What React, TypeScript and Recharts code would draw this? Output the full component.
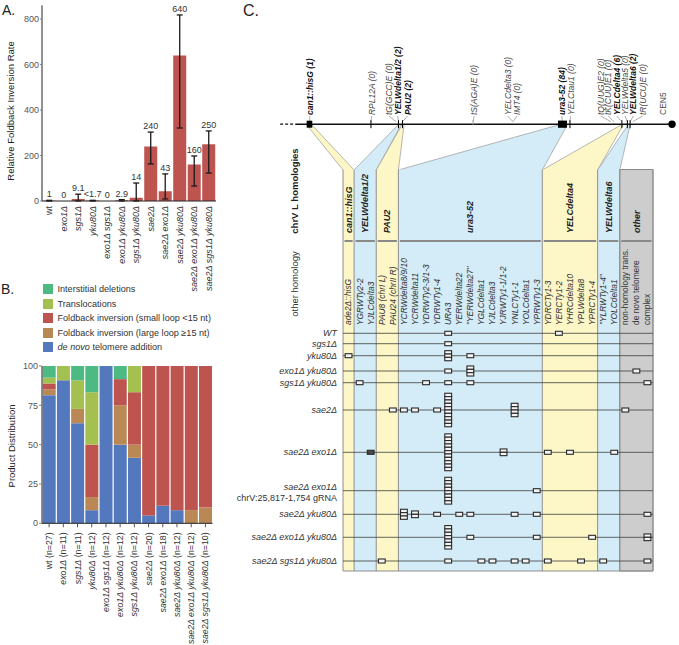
import React from 'react';
import * as R from 'recharts';

const Rx: any = R;
const { ComposedChart, Bar, Line, XAxis, YAxis, ErrorBar, LabelList, Legend, Scatter, ReferenceArea, ReferenceLine } = Rx;
const Customized: any = Rx.Customized ? Rx.Customized : ({ component: C }: any) => <C />;
const usePlotAreaSafe: () => any = Rx.usePlotArea ? Rx.usePlotArea : () => undefined;

const FONT = '"Liberation Sans", Arial, Helvetica, sans-serif';

/* ---------------- Panel A data ---------------- */
const strainsA = ['wt', 'exo1Δ', 'sgs1Δ', 'yku80Δ', 'exo1Δ sgs1Δ', 'exo1Δ yku80Δ', 'sgs1Δ yku80Δ', 'sae2Δ', 'sae2Δ exo1Δ', 'sae2Δ yku80Δ', 'sae2Δ exo1Δ yku80Δ', 'sae2Δ sgs1Δ yku80Δ'];
const rateA = [1, 0, 9.1, 1.7, 0, 2.9, 14, 240, 43, 640, 160, 250];
const rateTextA = ['1', '0', '9.1', '<1.7', '0', '2.9', '14', '240', '43', '640', '160', '250'];
const ciLowA = [0, 0, 0, 0, 0, 0, 0, 163, 9, 321, 66, 123];
const ciHighA = [3, 0, 30, 3, 0, 6, 79, 303, 119, 818, 198, 308];
const yTicksA = [0, 200, 400, 600, 800];

/* ---------------- Panel B data ---------------- */
const strainsB = strainsA;
const nB = [27, 11, 11, 12, 12, 12, 12, 20, 18, 12, 12, 10];
const denovoB = [22, 10, 7, 1, 12, 6, 5, 1, 2, 1, 0, 0];
const largeLoopB = [1, 0, 1, 1, 0, 3, 1, 0, 0, 0, 1, 1];
const smallLoopB = [1, 0, 0, 4, 0, 2, 4, 19, 16, 11, 11, 9];
const translocB = [1, 1, 2, 4, 0, 0, 2, 0, 0, 0, 0, 0];
const interstitialB = [2, 0, 1, 2, 0, 1, 0, 0, 0, 0, 0, 0];
const yTicksB = [0, 25, 50, 75, 100];

/* ---------------- Panel C data ---------------- */
const chromFeatureNames = ['can1::hisG', 'RPL12A', 'YELWdelta1/2', 'PAU2', 'tS(AGA)E', 'ura3-52', 'YELCtau1', 'YELCdelta4', 'YELWdelta5', 'YELWdelta6', 'CEN5'];
const chromFeatureKb = [32.66, 52.9, 61.96, 63.28, 86.5, 115.94, 118.4, 135.5, 137.3, 138.2, 152.0];
const chromFeatureKind = ['marker', 'tick', 'tick', 'tick', 'minor', 'bigmarker', 'tick', 'tick', 'tick', 'tick', 'centromere'];

const chromLabelText = ['can1::hisG (1)', 'RPL12A (0)', 'tG(GCC)E (0)', 'YELWdelta1/2 (2)', 'PAU2 (2)', 'tS(AGA)E (0)', 'YELCdelta3 (0)', 'IMT4 (0)', 'ura3-52 (84)', 'YELCtau1 (0)', 'tQ(UUG)E2 (0)', 'tK(CUU)E1 (0)', 'YELCdelta4 (6)', 'YELWdelta5 (0)', 'YELWdelta6 (2)', 'tR(UCU)E (0)', 'CEN5'];
const chromLabelKb = [32.83, 53.14, 58.83, 61.7, 65.0, 86.9, 97.9, 101.0, 115.7, 118.6, 128.5, 131.0, 133.8, 136.5, 139.3, 142.3, 149.0];
const chromLabelTargetKb: (number | null)[] = [32.66, 52.9, 61.14, 61.96, 63.28, 86.5, 99.65, 99.65, 115.94, 118.4, 131.9, 132.9, 135.5, 137.3, 138.2, 139.1, null];

const columnNames = ['can1::hisG', 'YELWdelta1/2', 'PAU2', 'ura3-52', 'YELCdelta4', 'YELWdelta6', 'other'];
const columnSlots = [[-0.5, 0.5], [0.5, 2.5], [2.5, 4.5], [4.5, 17.5], [17.5, 22.5], [22.5, 24.5], [24.5, 27.5]];
const columnKb: (number[] | null)[] = [[31.8, 33.5], [61.8, 62.8], [63.1, 63.8], [114.5, 117.5], [135.2, 135.9], [137.5, 138.2], null];

const subLabels = ['ade2Δ::hisG', 'YGRWTy2-2', 'YJLCdelta3', 'PAU8 (chrI L)', 'PAU24 (chrII R)', 'YCRWdelta8/9/10', 'YCRWdelta11', 'YDRWTy2-3/1-3', 'YDRWTy1-4', 'URA3', 'YERWdelta22', '"YERWdelta27"', 'YGLCdelta1', 'YJLCdelta3', 'YJRWTy1-1/1-2', 'YNLCTy1-1', 'YOLCdelta1', 'YPRWTy1-3', 'YDRCTy1-3', 'YERCTy1-2', 'YHRCdelta10', 'YPLWdelta8', 'YPRCTy1-4', '"YLRWTy1-4"', 'YOLCdelta1', 'non-homology trans.', 'de novo telomere', 'complex'];
const subLabelPlain = [25, 26, 27];

const rowNames = [['WT'], ['sgs1Δ'], ['yku80Δ'], ['exo1Δ yku80Δ'], ['sgs1Δ yku80Δ'], ['sae2Δ'], ['sae2Δ exo1Δ'], ['sae2Δ exo1Δ', 'chrV:25,817-1,754 gRNA'], ['sae2Δ yku80Δ'], ['sae2Δ exo1Δ yku80Δ'], ['sae2Δ sgs1Δ yku80Δ']];
// [homology slot, number of events, filled?]
const hitsByRow: number[][][] = [
  [[9, 1], [19, 1]],
  [[9, 1]],
  [[0, 1], [9, 3], [11, 1]],
  [[9, 1], [11, 3], [26, 1]],
  [[1, 1], [7, 1], [9, 1], [11, 1], [27, 1]],
  [[4, 1], [5, 1], [6, 1], [8, 1], [9, 10], [15, 4], [25, 1]],
  [[2, 1, 1], [9, 11], [14, 2], [18, 1], [20, 1], [24, 1]],
  [[9, 8], [17, 1]],
  [[5, 3], [6, 2], [8, 1], [10, 1], [11, 1], [15, 1], [17, 1], [27, 1]],
  [[9, 7], [11, 1], [17, 1], [22, 1], [27, 2]],
  [[3, 1], [9, 1], [12, 1], [13, 1], [15, 1], [16, 1], [18, 1], [21, 1], [23, 1], [27, 1]],
];

/* ---------------- layout / style constants ---------------- */
const C_W = 449;
const C_H = 645;
const SLOT_DOMAIN = [-10.71, 29.85];
const KB_DOMAIN = [6.5, 154.3];
const Y_DOMAIN = [0, 645];
const ROW_Y = [333.3, 343.7, 355.7, 371, 382.7, 410, 452.3, 490.7, 514.3, 537.3, 561];
const CHROM_Y = 124.2;
const FUNNEL_TOP = 125;
const COL_TOP = 169.5;
const COL_BOTTOM = 571;
const HEADER_BASE = 233;
const HEADER_RULE = 241;
const SUB_BASE = 325;
const CHROM_LABEL_BASE = 115;
const ROW_LABEL_SLOT = -1.04;
const SIDE_SLOT = -4.84;
const columnFills = ['#FDF6C6', '#D3ECF7', '#FDF6C6', '#D3ECF7', '#FDF6C6', '#D3ECF7', '#CDCDCD'];
const B_COLORS = { inter: '#4DB983', trans: '#A3C050', small: '#BE5450', large: '#BA8854', denovo: '#5478BE' };
const BAR_RED = '#BE5450';

/* ---------------- derived tables ---------------- */
const dataA = strainsA.map((name, i) => ({
  name,
  rate: rateA[i],
  err: [rateA[i] - ciLowA[i], ciHighA[i] - rateA[i]],
  labelPos: ciHighA[i],
  label: rateTextA[i],
}));

const pct = (arr: number[], i: number) => (arr[i] / nB[i]) * 100;
const dataB = strainsB.map((name, i) => ({
  name,
  n: nB[i],
  denovo: pct(denovoB, i),
  large: pct(largeLoopB, i),
  small: pct(smallLoopB, i),
  trans: pct(translocB, i),
  inter: pct(interstitialB, i),
}));

const seriesB = [
  { key: 'denovo', label: 'de novo telomere addition', color: B_COLORS.denovo },
  { key: 'large', label: 'Foldback inversion (large loop ≥15 nt)', color: B_COLORS.large },
  { key: 'small', label: 'Foldback inversion (small loop <15 nt)', color: B_COLORS.small },
  { key: 'trans', label: 'Translocations', color: B_COLORS.trans },
  { key: 'inter', label: 'Interstitial deletions', color: B_COLORS.inter },
];

const featureData = chromFeatureNames.map((name, i) => ({ name, x: chromFeatureKb[i], y: CHROM_Y, kind: chromFeatureKind[i] }));
const markerData = hitsByRow.flatMap((hits, r) => hits.map((h) => ({ x: h[0], y: ROW_Y[r], n: h[1], filled: !!h[2] })));

const chromTextData = chromLabelText.map((text, i) => {
  const m = text.match(/\((\d+)\)/);
  const bold = m ? Number(m[1]) > 0 : false;
  return { x: chromLabelKb[i], y: CHROM_LABEL_BASE, text, style: m ? (bold ? 'chromBold' : 'chrom') : 'chromPlain' };
});
const headerTextData = columnNames.map((text, i) => ({ x: (columnSlots[i][0] + columnSlots[i][1]) / 2, y: HEADER_BASE, text, style: 'header' }));
const subTextData = subLabels.map((text, i) => ({ x: i, y: SUB_BASE, text, style: subLabelPlain.includes(i) ? 'subPlain' : 'sub' }));
const rowTextData = rowNames.flatMap((lines, r) =>
  lines.length === 1
    ? [{ x: ROW_LABEL_SLOT, y: ROW_Y[r], text: lines[0], style: 'row' }]
    : [
        { x: ROW_LABEL_SLOT, y: ROW_Y[r] - 4.2, text: lines[0], style: 'row' },
        { x: ROW_LABEL_SLOT, y: ROW_Y[r] + 7, text: lines[1], style: 'rowPlain' },
      ]
);
const sideTextData = [
  { x: SIDE_SLOT, y: 191, text: 'chrV L homologies', style: 'sideBold' },
  { x: SIDE_SLOT, y: 284, text: 'other homology', style: 'side' },
];

const textStyles: Record<string, any> = {
  chrom: { size: 8.5, italic: true, bold: false, fill: '#4a4a4a', rotate: true, anchor: 'start' },
  chromBold: { size: 8.5, italic: true, bold: true, fill: '#111', rotate: true, anchor: 'start' },
  chromPlain: { size: 8.5, italic: false, bold: false, fill: '#4a4a4a', rotate: true, anchor: 'start' },
  header: { size: 9, italic: true, bold: true, fill: '#222', rotate: true, anchor: 'start' },
  sub: { size: 8.4, italic: true, bold: false, fill: '#333', rotate: true, anchor: 'start' },
  subPlain: { size: 8.4, italic: false, bold: false, fill: '#333', rotate: true, anchor: 'start' },
  row: { size: 9, italic: true, bold: false, fill: '#333', rotate: false, anchor: 'end' },
  rowPlain: { size: 9, italic: false, bold: false, fill: '#333', rotate: false, anchor: 'end' },
  sideBold: { size: 9.5, italic: false, bold: true, fill: '#222', rotate: true, anchor: 'middle' },
  side: { size: 9.5, italic: false, bold: false, fill: '#333', rotate: true, anchor: 'middle' },
};

/* ---------------- shapes ---------------- */
function TextShape(p: any) {
  const { cx, cy, payload } = p;
  const st = textStyles[payload.style];
  return (
    <text
      x={cx}
      y={cy}
      transform={st.rotate ? `rotate(-90, ${cx}, ${cy})` : undefined}
      textAnchor={st.anchor}
      dy="0.35em"
      fontSize={st.size}
      fontStyle={st.italic ? 'italic' : 'normal'}
      fontWeight={st.bold ? 'bold' : 'normal'}
      fill={st.fill}
      fontFamily={FONT}
    >
      {payload.text}
    </text>
  );
}

function MarkerShape(p: any) {
  const { cx, cy, payload } = p;
  const n = payload.n;
  const h = n === 1 ? 4 : 3.35;
  const w = 6.8;
  const top = cy - (n * h) / 2;
  const boxes = [];
  for (let i = 0; i < n; i++) {
    boxes.push(
      <rect key={i} x={cx - w / 2} y={top + i * h} width={w} height={h} fill={payload.filled ? '#4a4a4a' : '#f4f4f4'} stroke="#2a2a2a" strokeWidth={1.1} />
    );
  }
  return <g>{boxes}</g>;
}

function FeatureShape(p: any) {
  const { cx, cy, payload } = p;
  switch (payload.kind) {
    case 'marker':
      return <rect x={cx - 2.8} y={cy - 3.5} width={5.6} height={7} fill="#000" />;
    case 'bigmarker':
      return <rect x={cx - 4.5} y={cy - 3.6} width={9} height={7.2} fill="#000" />;
    case 'tick':
      return <line x1={cx} x2={cx} y1={cy - 4} y2={cy + 4} stroke="#000" strokeWidth={1} />;
    case 'minor':
      return <line x1={cx} x2={cx} y1={cy - 4} y2={cy + 1} stroke="#999" strokeWidth={0.8} />;
    case 'centromere':
      return <circle cx={cx} cy={cy} r={3.7} fill="#000" />;
    default:
      return <g />;
  }
}

function FunnelLayer() {
  const pa = usePlotAreaSafe();
  const area = pa && pa.width > 0 ? pa : { x: 0, y: 0, width: C_W, height: C_H };
  const sx = (v: number) => area.x + ((v - SLOT_DOMAIN[0]) / (SLOT_DOMAIN[1] - SLOT_DOMAIN[0])) * area.width;
  const kx = (v: number) => area.x + ((v - KB_DOMAIN[0]) / (KB_DOMAIN[1] - KB_DOMAIN[0])) * area.width;
  const py = (v: number) => area.y + ((v - Y_DOMAIN[0]) / (Y_DOMAIN[1] - Y_DOMAIN[0])) * area.height;
  return (
    <g>
      {columnNames.map((name, i) => {
        const kb = columnKb[i];
        if (!kb) return null;
        const [s0, s1] = columnSlots[i];
        const p1 = [kx(kb[0]), py(FUNNEL_TOP)];
        const p2 = [kx(kb[1]), py(FUNNEL_TOP)];
        const p3 = [sx(s1), py(COL_TOP) + 0.5];
        const p4 = [sx(s0), py(COL_TOP) + 0.5];
        return (
          <g key={name}>
            <polygon points={[p1, p2, p3, p4].map((q) => q.join(',')).join(' ')} fill={columnFills[i]} stroke="none" />
            <line x1={p1[0]} y1={p1[1]} x2={p4[0]} y2={p4[1]} stroke="#9a9a9a" strokeWidth={0.7} />
            <line x1={p2[0]} y1={p2[1]} x2={p3[0]} y2={p3[1]} stroke="#9a9a9a" strokeWidth={0.7} />
          </g>
        );
      })}
    </g>
  );
}

/* ---------------- axis helpers ---------------- */
function AxisTitle({ text, cx, cy }: any) {
  return (
    <text x={cx} y={cy} transform={`rotate(-90, ${cx}, ${cy})`} textAnchor="middle" dy="0.35em" fontSize={9.5} fill="#222" fontFamily={FONT}>
      {text}
    </text>
  );
}

function TickA(props: any) {
  const { x, y, payload } = props;
  const v: string = payload.value;
  return (
    <text x={x} y={y} transform={`rotate(-90, ${x}, ${y})`} textAnchor="end" dy="0.35em" fontSize={9} fill="#333" fontFamily={FONT} fontStyle={v === 'wt' ? 'normal' : 'italic'}>
      {v}
    </text>
  );
}

function TickB(props: any) {
  const { x, y, payload } = props;
  const v: string = payload.value;
  const i = strainsB.indexOf(v);
  return (
    <text x={x} y={y} transform={`rotate(-90, ${x}, ${y})`} textAnchor="end" dy="0.35em" fontSize={8.8} fill="#333" fontFamily={FONT}>
      <tspan fontStyle={v === 'wt' ? 'normal' : 'italic'}>{v}</tspan>
      <tspan>{' (n=' + nB[i] + ')'}</tspan>
    </text>
  );
}

function LegendB() {
  const items = [...seriesB].reverse();
  return (
    <div style={{ fontFamily: FONT }}>
      {items.map((s) => (
        <div key={s.key} style={{ display: 'flex', alignItems: 'center', height: 14.5 }}>
          <span style={{ display: 'inline-block', width: 10, height: 10, background: s.color, marginLeft: 3 }} />
          <span style={{ marginLeft: 4.5, fontSize: 9.1, color: '#333', whiteSpace: 'nowrap' }}>
            {s.key === 'denovo' ? (
              <>
                <i>de novo</i> telomere addition
              </>
            ) : (
              s.label
            )}
          </span>
        </div>
      ))}
    </div>
  );
}

/* ---------------- panels ---------------- */
function PanelA() {
  return (
    <ComposedChart width={230} height={301} data={dataA} margin={{ top: 5.4, right: 14, bottom: 0, left: 0 }} barCategoryGap="5%">
      <XAxis dataKey="name" interval={0} height={100} tickSize={0} tickMargin={5} axisLine={{ stroke: '#222', strokeWidth: 1 }} tick={<TickA />} />
      <YAxis
        width={42}
        domain={[0, 860]}
        allowDataOverflow
        ticks={yTicksA}
        interval={0}
        tickSize={2}
        tickMargin={1}
        axisLine={{ stroke: '#222' }}
        tickLine={{ stroke: '#888' }}
        tick={{ fontSize: 9, fill: '#555', fontFamily: FONT }}
        label={<AxisTitle text="Relative Foldback Inversion Rate" cx={10.5} cy={111} />}
      />
      <Bar dataKey="rate" fill={BAR_RED} isAnimationActive={false}>
        <ErrorBar dataKey="err" width={3} stroke="#1a1a1a" strokeWidth={1.3} />
      </Bar>
      <Line dataKey="labelPos" stroke="none" dot={false} activeDot={false} isAnimationActive={false} legendType="none">
        <LabelList dataKey="label" position="top" offset={3} style={{ fontSize: 9, fill: '#333', fontFamily: FONT }} />
      </Line>
    </ComposedChart>
  );
}

function PanelB() {
  return (
    <ComposedChart width={230} height={375} data={dataB} margin={{ top: 96, right: 17.5, bottom: 0, left: 0 }} barCategoryGap="5%">
      <XAxis dataKey="name" interval={0} height={121.7} tickSize={4} tickMargin={5} axisLine={{ stroke: '#222' }} tickLine={{ stroke: '#555' }} tick={<TickB />} />
      <YAxis
        width={42}
        domain={[0, 100]}
        ticks={yTicksB}
        interval={0}
        tickSize={3}
        tickMargin={1}
        axisLine={{ stroke: '#222' }}
        tickLine={{ stroke: '#888' }}
        tick={{ fontSize: 9, fill: '#555', fontFamily: FONT }}
        label={<AxisTitle text="Product Distribution" cx={12} cy={176} />}
      />
      {seriesB.map((s) => (
        <Bar key={s.key} dataKey={s.key} name={s.label} stackId="a" fill={s.color} isAnimationActive={false} />
      ))}
      <Legend layout="vertical" align="center" verticalAlign="middle" wrapperStyle={{ left: 40, top: 11.75, width: 190, height: 76 }} content={() => <LegendB />} />
    </ComposedChart>
  );
}

function PanelC() {
  const boundaries = [columnSlots[0][0], ...columnSlots.map((c) => c[1])];
  return (
    <ComposedChart width={C_W} height={C_H} margin={{ top: 0, right: 0, bottom: 0, left: 0 }}>
      <XAxis xAxisId="slot" type="number" dataKey="x" domain={SLOT_DOMAIN} allowDataOverflow hide />
      <XAxis xAxisId="kb" type="number" dataKey="x" domain={KB_DOMAIN} allowDataOverflow hide />
      <YAxis yAxisId="y" type="number" dataKey="y" domain={Y_DOMAIN} reversed allowDataOverflow hide />

      {columnNames.map((name, i) => (
        <ReferenceArea
          key={'col' + name}
          xAxisId="slot"
          yAxisId="y"
          x1={columnSlots[i][0]}
          x2={columnSlots[i][1]}
          y1={COL_TOP}
          y2={COL_BOTTOM}
          fill={columnFills[i]}
          fillOpacity={1}
          stroke={columnKb[i] ? 'none' : '#8a8a8a'}
          strokeWidth={1}
          ifOverflow="visible"
        />
      ))}
      <Customized component={FunnelLayer} />
      {boundaries.map((b, i) => (
        <ReferenceLine key={'bd' + i} xAxisId="slot" yAxisId="y" segment={[{ x: b, y: COL_TOP }, { x: b, y: COL_BOTTOM }]} stroke="#8f8f8f" strokeWidth={1} ifOverflow="visible" />
      ))}
      <ReferenceLine xAxisId="slot" yAxisId="y" segment={[{ x: columnSlots[0][0], y: COL_BOTTOM }, { x: columnSlots[columnSlots.length - 1][1], y: COL_BOTTOM }]} stroke="#8f8f8f" strokeWidth={1} ifOverflow="visible" />
      {columnNames.map((name, i) => (
        <ReferenceLine
          key={'hr' + name}
          xAxisId="slot"
          yAxisId="y"
          segment={[{ x: columnSlots[i][0] + 0.13, y: HEADER_RULE }, { x: columnSlots[i][1] - 0.13, y: HEADER_RULE }]}
          stroke="#8a8a8a"
          strokeWidth={2}
          ifOverflow="visible"
        />
      ))}
      {ROW_Y.map((ry, r) => (
        <ReferenceLine
          key={'row' + r}
          xAxisId="slot"
          yAxisId="y"
          segment={[{ x: columnSlots[0][0], y: ry }, { x: columnSlots[columnSlots.length - 1][1], y: ry }]}
          stroke="#3f3f3f"
          strokeOpacity={0.8}
          strokeWidth={1}
          ifOverflow="visible"
        />
      ))}

      <ReferenceLine xAxisId="kb" yAxisId="y" segment={[{ x: 23, y: CHROM_Y }, { x: 28, y: CHROM_Y }]} stroke="#111" strokeWidth={1.3} strokeDasharray="3 2" ifOverflow="visible" />
      <ReferenceLine xAxisId="kb" yAxisId="y" segment={[{ x: 28, y: CHROM_Y }, { x: chromFeatureKb[chromFeatureKb.length - 1], y: CHROM_Y }]} stroke="#111" strokeWidth={1.5} ifOverflow="visible" />
      {chromLabelText.map((t, i) =>
        chromLabelTargetKb[i] === null ? null : (
          <ReferenceLine
            key={'con' + i}
            xAxisId="kb"
            yAxisId="y"
            segment={[{ x: chromLabelKb[i], y: CHROM_LABEL_BASE + 1 }, { x: chromLabelTargetKb[i] as number, y: CHROM_Y - 2.5 }]}
            stroke="#777"
            strokeWidth={0.6}
            ifOverflow="visible"
          />
        )
      )}

      <Scatter xAxisId="kb" yAxisId="y" data={featureData} shape={FeatureShape} isAnimationActive={false} />
      <Scatter xAxisId="slot" yAxisId="y" data={markerData} shape={MarkerShape} isAnimationActive={false} />
      <Scatter xAxisId="kb" yAxisId="y" data={chromTextData} shape={TextShape} isAnimationActive={false} />
      <Scatter xAxisId="slot" yAxisId="y" data={headerTextData} shape={TextShape} isAnimationActive={false} />
      <Scatter xAxisId="slot" yAxisId="y" data={subTextData} shape={TextShape} isAnimationActive={false} />
      <Scatter xAxisId="slot" yAxisId="y" data={rowTextData} shape={TextShape} isAnimationActive={false} />
      <Scatter xAxisId="slot" yAxisId="y" data={sideTextData} shape={TextShape} isAnimationActive={false} />
    </ComposedChart>
  );
}

export default function App() {
  const titleStyle: React.CSSProperties = { position: 'absolute', fontFamily: FONT, color: '#222', lineHeight: 1 };
  return (
    <div style={{ position: 'absolute', left: 0, top: 0, width: 679, height: 645, background: '#fff', overflow: 'hidden', fontFamily: FONT }}>
      <div style={{ position: 'absolute', left: 0, top: 0 }}>
        <PanelA />
      </div>
      <div style={{ position: 'absolute', left: 0, top: 270 }}>
        <PanelB />
      </div>
      <div style={{ position: 'absolute', left: 230, top: 0 }}>
        <PanelC />
      </div>
      <div style={{ ...titleStyle, left: 2, top: 3, fontSize: 14 }}>A.</div>
      <div style={{ ...titleStyle, left: 1, top: 282, fontSize: 14 }}>B.</div>
      <div style={{ ...titleStyle, left: 243, top: 3, fontSize: 16 }}>C.</div>
    </div>
  );
}
